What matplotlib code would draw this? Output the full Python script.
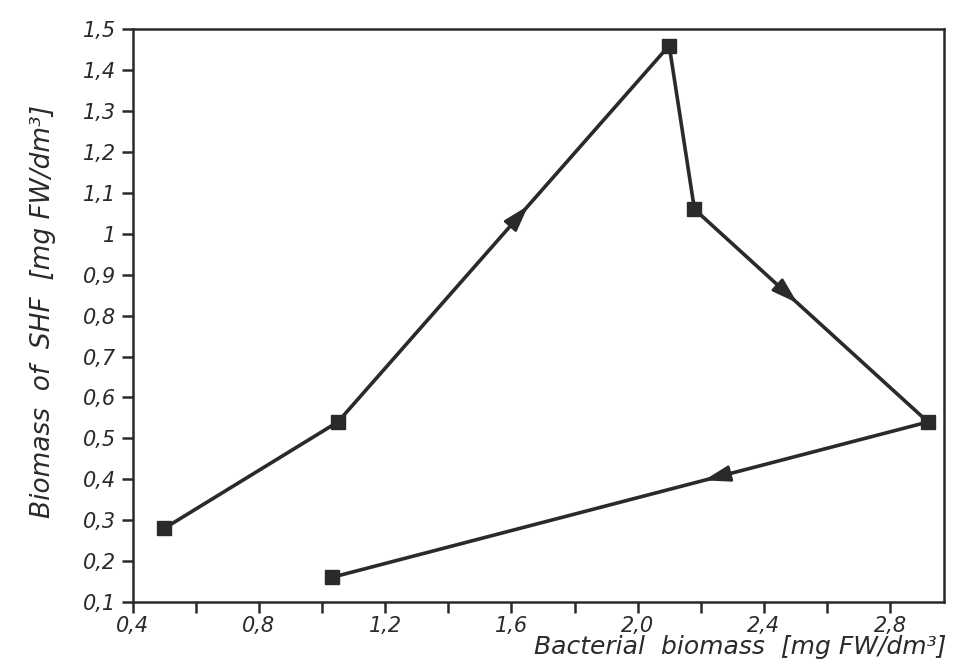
import numpy as np
import matplotlib
matplotlib.use("Agg")
import matplotlib.pyplot as plt

# data (path in time order)
bact = [0.50, 1.05, 2.10, 2.18, 2.92, 1.03]
shf = [0.28, 0.54, 1.46, 1.06, 0.54, 0.16]

x_ticks = [0.4, 0.8, 1.2, 1.6, 2.0, 2.4, 2.8]
x_labels = ["0,4", "0,8", "1,2", "1,6", "2,0", "2,4", "2,8"]
y_ticks = [0.1, 0.2, 0.3, 0.4, 0.5, 0.6, 0.7, 0.8, 0.9, 1.0, 1.1, 1.2, 1.3, 1.4, 1.5]
y_labels = ["0,1", "0,2", "0,3", "0,4", "0,5", "0,6", "0,7", "0,8", "0,9",
            "1", "1,1", "1,2", "1,3", "1,4", "1,5"]

# segment index -> where along it the direction arrow sits
arrow_at = {1: 0.58, 3: 0.45, 4: 0.38}

plt.rcParams['font.family'] = ['DejaVu Sans']
ink = "#2a2a2a"

fig = plt.figure(figsize=(9.62, 6.63), dpi=100)
ax = fig.add_axes([0.138, 0.092, 0.843, 0.864])

ax.plot(bact, shf, color=ink, lw=2.6, marker="s", ms=10, mfc=ink, mec=ink, zorder=3)

for i, f in arrow_at.items():
    x0, y0 = bact[i], shf[i]
    x1, y1 = bact[i + 1], shf[i + 1]
    xm, ym = x0 + f * (x1 - x0), y0 + f * (y1 - y0)
    xs, ys = x0 + (f - 0.04) * (x1 - x0), y0 + (f - 0.04) * (y1 - y0)
    ax.annotate("", xy=(xm, ym), xytext=(xs, ys),
                arrowprops=dict(arrowstyle="-|>,head_length=1.6,head_width=0.5",
                                color=ink, lw=2), zorder=4)

ax.set_xlim(0.4, 2.97)
ax.set_ylim(0.1, 1.5)
ax.set_xticks(x_ticks)
ax.set_xticklabels(x_labels, fontsize=15, style="italic")
ax.set_xticks(np.arange(0.6, 2.9, 0.4), minor=True)
ax.set_yticks(y_ticks)
ax.set_yticklabels(y_labels, fontsize=15, style="italic")
ax.tick_params(axis="both", which="both", direction="out", length=8, width=1.8, color=ink,
               labelcolor=ink)
ax.tick_params(axis="x", pad=2)
ax.tick_params(axis="y", pad=4)
for s in ax.spines.values():
    s.set_linewidth(1.8)
    s.set_color(ink)

fig.text(0.045, 0.53, "Biomass  of  SHF  [mg FW/dm³]", rotation=90, ha="center",
         va="center", fontsize=19, style="italic", color=ink)
fig.text(0.555, 0.006, "Bacterial  biomass  [mg FW/dm³]", ha="left", va="bottom",
         fontsize=18, style="italic", color=ink)

fig.savefig("out.png", dpi=100)
